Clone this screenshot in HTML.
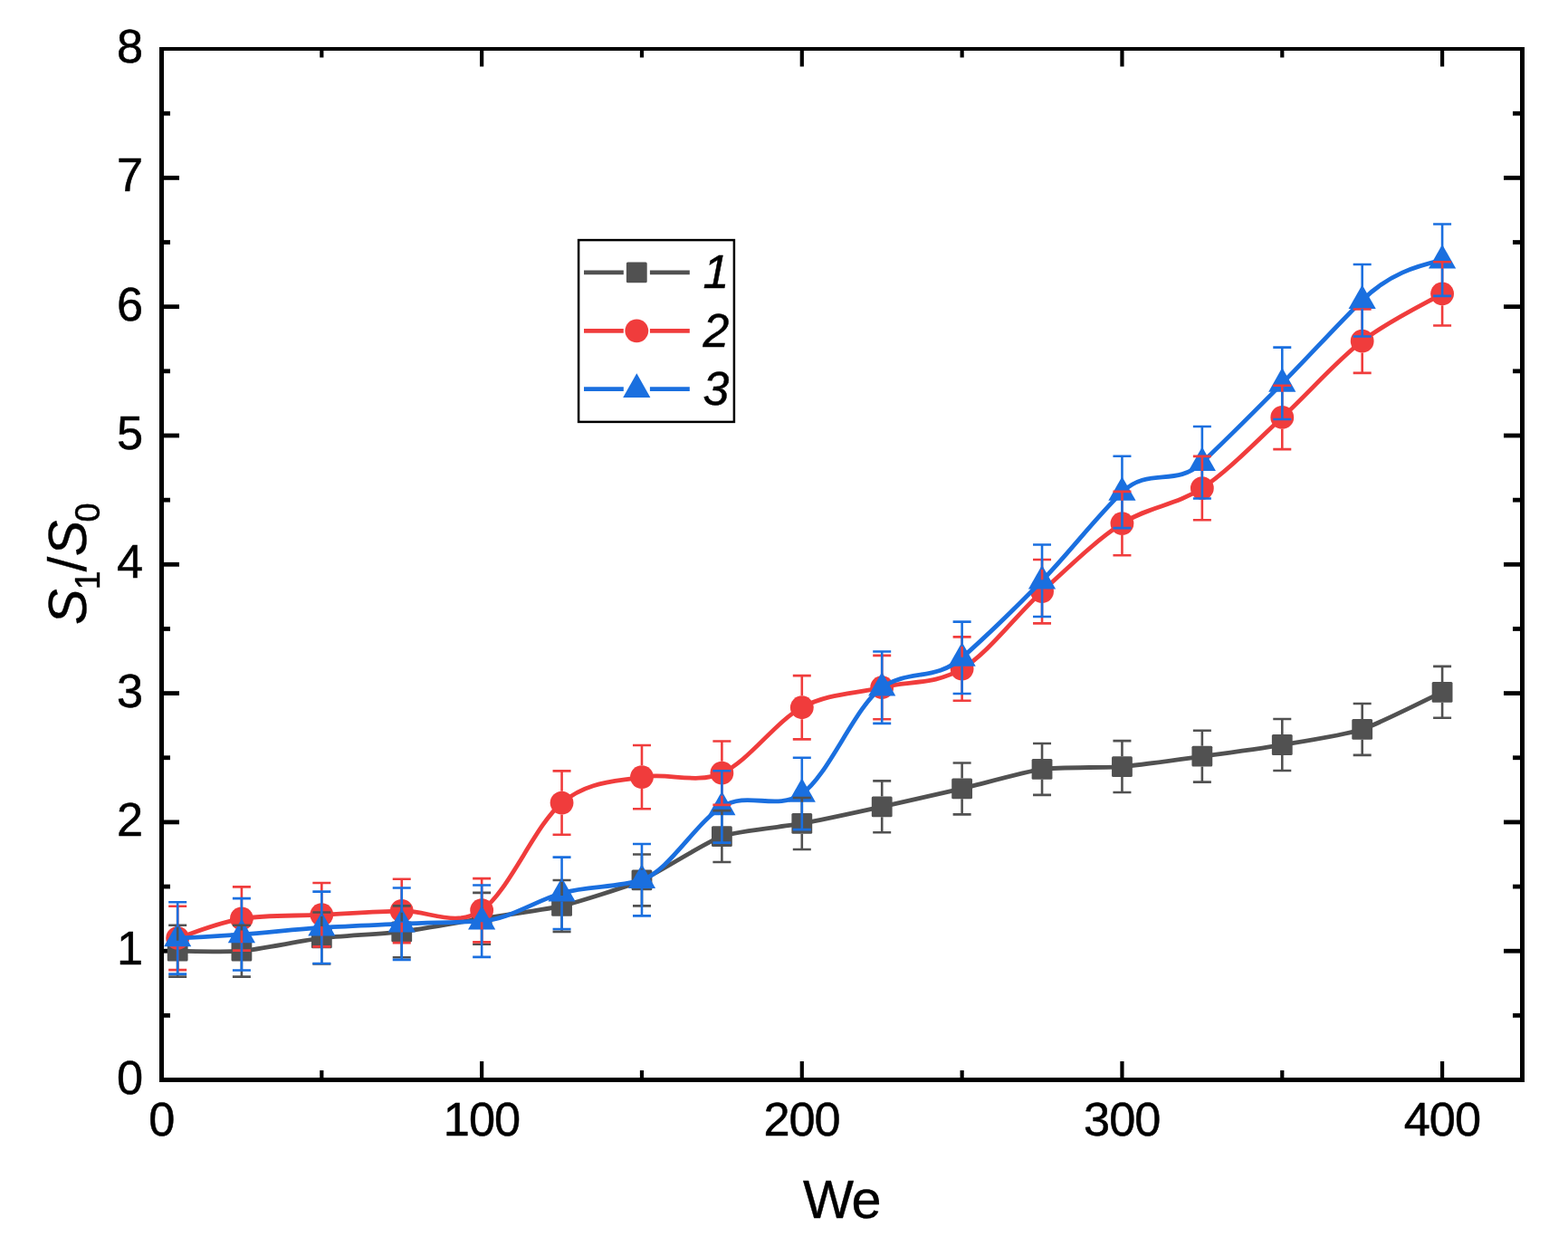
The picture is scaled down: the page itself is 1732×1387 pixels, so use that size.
<!DOCTYPE html>
<html lang="en"><head><meta charset="utf-8"><title>S1/S0 vs We</title>
<style>html,body{margin:0;padding:0;background:#fff}body{width:1732px;height:1387px;overflow:hidden}svg{display:block}text{font-family:"Liberation Sans",Arial,Helvetica,sans-serif;fill:#000}</style>
</head><body>
<svg width="1732" height="1387" viewBox="0 0 1732 1387">
<rect width="1732" height="1387" fill="#fff"/>
<g fill="#000"><rect x="176" y="52" width="1508" height="4"/><rect x="176" y="1190" width="1508" height="5"/><rect x="176" y="52" width="5" height="1143"/><rect x="1679" y="52" width="5" height="1143"/><rect x="353.23" y="1182" width="4.2" height="9"/><rect x="353.23" y="55" width="4.2" height="8.5"/><rect x="530.05" y="1172" width="4.2" height="19"/><rect x="530.05" y="55" width="4.2" height="18.5"/><rect x="706.88" y="1182" width="4.2" height="9"/><rect x="706.88" y="55" width="4.2" height="8.5"/><rect x="883.7" y="1172" width="4.2" height="19"/><rect x="883.7" y="55" width="4.2" height="18.5"/><rect x="1060.53" y="1182" width="4.2" height="9"/><rect x="1060.53" y="55" width="4.2" height="8.5"/><rect x="1237.35" y="1172" width="4.2" height="19"/><rect x="1237.35" y="55" width="4.2" height="18.5"/><rect x="1414.18" y="1182" width="4.2" height="9"/><rect x="1414.18" y="55" width="4.2" height="8.5"/><rect x="1591" y="1172" width="4.2" height="19"/><rect x="1591" y="55" width="4.2" height="18.5"/><rect x="180" y="1118.95" width="8" height="4.8"/><rect x="1671" y="1118.95" width="9" height="4.8"/><rect x="180" y="1047.8" width="18" height="4.8"/><rect x="1661" y="1047.8" width="19" height="4.8"/><rect x="180" y="976.65" width="8" height="4.8"/><rect x="1671" y="976.65" width="9" height="4.8"/><rect x="180" y="905.5" width="18" height="4.8"/><rect x="1661" y="905.5" width="19" height="4.8"/><rect x="180" y="834.35" width="8" height="4.8"/><rect x="1671" y="834.35" width="9" height="4.8"/><rect x="180" y="763.2" width="18" height="4.8"/><rect x="1661" y="763.2" width="19" height="4.8"/><rect x="180" y="692.05" width="8" height="4.8"/><rect x="1671" y="692.05" width="9" height="4.8"/><rect x="180" y="620.9" width="18" height="4.8"/><rect x="1661" y="620.9" width="19" height="4.8"/><rect x="180" y="549.75" width="8" height="4.8"/><rect x="1671" y="549.75" width="9" height="4.8"/><rect x="180" y="478.6" width="18" height="4.8"/><rect x="1661" y="478.6" width="19" height="4.8"/><rect x="180" y="407.45" width="8" height="4.8"/><rect x="1671" y="407.45" width="9" height="4.8"/><rect x="180" y="336.3" width="18" height="4.8"/><rect x="1661" y="336.3" width="19" height="4.8"/><rect x="180" y="265.15" width="8" height="4.8"/><rect x="1671" y="265.15" width="9" height="4.8"/><rect x="180" y="194" width="18" height="4.8"/><rect x="1661" y="194" width="19" height="4.8"/><rect x="180" y="122.85" width="8" height="4.8"/><rect x="1671" y="122.85" width="9" height="4.8"/></g>
<g><path d="M196.18 1050.2C203.26 1050.2 251 1051.62 266.91 1050.2C282.83 1048.78 337.64 1038.1 355.33 1035.97C373.01 1033.84 426.06 1031.02 443.74 1028.86C461.42 1026.69 514.47 1017.19 532.15 1014.34C549.83 1011.49 602.88 1004.64 620.56 1000.39C638.25 996.15 691.29 979.62 708.98 971.93C726.66 964.25 779.71 929.8 797.39 923.55C815.07 917.31 868.12 912.74 885.8 909.47C903.48 906.19 956.53 894.68 974.21 890.82C991.9 886.97 1044.94 875.04 1062.62 870.9C1080.31 866.76 1133.36 851.85 1151.04 849.41C1168.72 846.98 1221.77 847.99 1239.45 846.57C1257.13 845.15 1310.18 837.59 1327.86 835.18C1345.55 832.78 1398.59 825.49 1416.28 822.52C1433.96 819.55 1487.01 811.26 1504.69 805.44C1522.37 799.62 1584.26 768.43 1593.1 764.32" fill="none" stroke="#515151" stroke-width="4.8" stroke-linejoin="round" stroke-linecap="butt"/>
<rect x="184.78" y="1038.8" width="22.8" height="22.8" rx="1.5" fill="#515151"/>
<rect x="255.51" y="1038.8" width="22.8" height="22.8" rx="1.5" fill="#515151"/>
<rect x="343.93" y="1024.57" width="22.8" height="22.8" rx="1.5" fill="#515151"/>
<rect x="432.34" y="1017.46" width="22.8" height="22.8" rx="1.5" fill="#515151"/>
<rect x="520.75" y="1002.94" width="22.8" height="22.8" rx="1.5" fill="#515151"/>
<rect x="609.16" y="989" width="22.8" height="22.8" rx="1.5" fill="#515151"/>
<rect x="697.58" y="960.53" width="22.8" height="22.8" rx="1.5" fill="#515151"/>
<rect x="785.99" y="912.15" width="22.8" height="22.8" rx="1.5" fill="#515151"/>
<rect x="874.4" y="898.07" width="22.8" height="22.8" rx="1.5" fill="#515151"/>
<rect x="962.81" y="879.42" width="22.8" height="22.8" rx="1.5" fill="#515151"/>
<rect x="1051.22" y="859.5" width="22.8" height="22.8" rx="1.5" fill="#515151"/>
<rect x="1139.64" y="838.01" width="22.8" height="22.8" rx="1.5" fill="#515151"/>
<rect x="1228.05" y="835.17" width="22.8" height="22.8" rx="1.5" fill="#515151"/>
<rect x="1316.46" y="823.78" width="22.8" height="22.8" rx="1.5" fill="#515151"/>
<rect x="1404.88" y="811.12" width="22.8" height="22.8" rx="1.5" fill="#515151"/>
<rect x="1493.29" y="794.04" width="22.8" height="22.8" rx="1.5" fill="#515151"/>
<rect x="1581.7" y="752.92" width="22.8" height="22.8" rx="1.5" fill="#515151"/>
</g>
<g><path d="M196.18 1035.97C207.97 1032.39 240.39 1018.78 266.91 1014.48C293.44 1010.19 325.85 1011.64 355.33 1010.21C384.8 1008.79 414.27 1006.77 443.74 1005.94C473.21 1005.11 502.68 1025.13 532.15 1005.23C561.62 985.33 591.09 911.08 620.56 886.56C650.03 862.03 679.5 863.57 708.98 858.1C738.45 852.62 767.92 866.49 797.39 853.68C826.86 840.88 856.33 797.02 885.8 781.25C915.27 765.48 944.74 766.17 974.21 759.05C1003.68 751.94 1033.15 756.21 1062.62 738.56C1092.1 720.92 1121.57 679.94 1151.04 653.18C1180.51 626.43 1209.98 597.07 1239.45 578.05C1268.92 559.03 1298.39 558.58 1327.86 539.06C1357.33 519.54 1386.8 488 1416.28 460.94C1445.75 433.87 1475.22 399.46 1504.69 376.69C1534.16 353.93 1578.36 333.06 1593.1 324.33" fill="none" stroke="#F03C3C" stroke-width="4.8" stroke-linejoin="round" stroke-linecap="butt"/>
<circle cx="196.18" cy="1035.97" r="12.9" fill="#F03C3C"/>
<circle cx="266.91" cy="1014.48" r="12.9" fill="#F03C3C"/>
<circle cx="355.33" cy="1010.21" r="12.9" fill="#F03C3C"/>
<circle cx="443.74" cy="1005.94" r="12.9" fill="#F03C3C"/>
<circle cx="532.15" cy="1005.23" r="12.9" fill="#F03C3C"/>
<circle cx="620.56" cy="886.56" r="12.9" fill="#F03C3C"/>
<circle cx="708.98" cy="858.1" r="12.9" fill="#F03C3C"/>
<circle cx="797.39" cy="853.68" r="12.9" fill="#F03C3C"/>
<circle cx="885.8" cy="781.25" r="12.9" fill="#F03C3C"/>
<circle cx="974.21" cy="759.05" r="12.9" fill="#F03C3C"/>
<circle cx="1062.62" cy="738.56" r="12.9" fill="#F03C3C"/>
<circle cx="1151.04" cy="653.18" r="12.9" fill="#F03C3C"/>
<circle cx="1239.45" cy="578.05" r="12.9" fill="#F03C3C"/>
<circle cx="1327.86" cy="539.06" r="12.9" fill="#F03C3C"/>
<circle cx="1416.28" cy="460.94" r="12.9" fill="#F03C3C"/>
<circle cx="1504.69" cy="376.69" r="12.9" fill="#F03C3C"/>
<circle cx="1593.1" cy="324.33" r="12.9" fill="#F03C3C"/>
</g>
<g><path d="M196.18 1035.97C219.76 1034.91 243.34 1033.48 266.91 1031.84C296.38 1029.8 325.85 1026.04 355.33 1024.3C384.8 1022.56 414.27 1021.51 443.74 1020.17C473.21 1018.84 502.68 1018.79 532.15 1017.19C561.62 1015.58 591.09 994.99 620.56 986.31C650.03 977.62 679.5 980.87 708.98 971.65C738.45 962.43 767.92 909.23 797.39 890.97C826.86 872.7 856.33 896.34 885.8 876.45C915.27 856.56 944.74 779.63 974.21 759.2C1003.68 738.76 1033.15 752.42 1062.62 726.33C1092.1 700.23 1121.57 671.48 1151.04 641.23C1180.51 610.98 1209.98 571.98 1239.45 543.47C1268.92 514.96 1298.39 538.74 1327.86 510.74C1357.33 482.74 1386.8 453.26 1416.28 423.37C1445.75 393.48 1475.22 360.97 1504.69 331.73C1534.16 302.48 1563.63 294.18 1593.1 287.19" fill="none" stroke="#1A6FDF" stroke-width="4.8" stroke-linejoin="round" stroke-linecap="butt"/>
<path d="M196.18 1018.67L211.28 1045.27L181.08 1045.27Z" fill="#1A6FDF"/>
<path d="M266.91 1014.54L282.01 1041.14L251.81 1041.14Z" fill="#1A6FDF"/>
<path d="M355.33 1007L370.43 1033.6L340.23 1033.6Z" fill="#1A6FDF"/>
<path d="M443.74 1002.87L458.84 1029.47L428.64 1029.47Z" fill="#1A6FDF"/>
<path d="M532.15 999.89L547.25 1026.49L517.05 1026.49Z" fill="#1A6FDF"/>
<path d="M620.56 969.01L635.66 995.61L605.46 995.61Z" fill="#1A6FDF"/>
<path d="M708.98 954.35L724.08 980.95L693.88 980.95Z" fill="#1A6FDF"/>
<path d="M797.39 873.67L812.49 900.27L782.29 900.27Z" fill="#1A6FDF"/>
<path d="M885.8 859.15L900.9 885.75L870.7 885.75Z" fill="#1A6FDF"/>
<path d="M974.21 741.9L989.31 768.5L959.11 768.5Z" fill="#1A6FDF"/>
<path d="M1062.62 709.03L1077.72 735.63L1047.53 735.63Z" fill="#1A6FDF"/>
<path d="M1151.04 623.93L1166.14 650.53L1135.94 650.53Z" fill="#1A6FDF"/>
<path d="M1239.45 526.17L1254.55 552.77L1224.35 552.77Z" fill="#1A6FDF"/>
<path d="M1327.86 493.44L1342.96 520.04L1312.76 520.04Z" fill="#1A6FDF"/>
<path d="M1416.28 406.07L1431.38 432.67L1401.18 432.67Z" fill="#1A6FDF"/>
<path d="M1504.69 314.43L1519.79 341.03L1489.59 341.03Z" fill="#1A6FDF"/>
<path d="M1593.1 269.89L1608.2 296.49L1578 296.49Z" fill="#1A6FDF"/>
</g>
<path d="M196.18 1021.74V1038.8M196.18 1061.6V1078.66M186.18 1021.74H206.18M186.18 1078.66H206.18M266.91 1021.74V1038.8M266.91 1061.6V1078.66M256.91 1021.74H276.91M256.91 1078.66H276.91M355.33 1007.51V1024.57M355.33 1047.37V1064.43M345.33 1007.51H365.33M345.33 1064.43H365.33M443.74 1000.39V1017.46M443.74 1040.26V1057.32M433.74 1000.39H453.74M433.74 1057.32H453.74M532.15 985.88V1002.94M532.15 1025.74V1042.8M522.15 985.88H542.15M522.15 1042.8H542.15M620.56 971.93V989M620.56 1011.79V1028.86M610.56 971.93H630.56M610.56 1028.86H630.56M708.98 943.47V960.53M708.98 983.33V1000.39M698.98 943.47H718.98M698.98 1000.39H718.98M797.39 895.09V912.15M797.39 934.95V952.01M787.39 895.09H807.39M787.39 952.01H807.39M885.8 881.01V898.07M885.8 920.87V937.93M875.8 881.01H895.8M875.8 937.93H895.8M974.21 862.36V879.42M974.21 902.22V919.28M964.21 862.36H984.21M964.21 919.28H984.21M1062.62 842.44V859.5M1062.62 882.3V899.36M1052.62 842.44H1072.62M1052.62 899.36H1072.62M1151.04 820.95V838.01M1151.04 860.81V877.87M1141.04 820.95H1161.04M1141.04 877.87H1161.04M1239.45 818.11V835.17M1239.45 857.97V875.03M1229.45 818.11H1249.45M1229.45 875.03H1249.45M1327.86 806.72V823.78M1327.86 846.58V863.64M1317.86 806.72H1337.86M1317.86 863.64H1337.86M1416.28 794.06V811.12M1416.28 833.92V850.98M1406.28 794.06H1426.28M1406.28 850.98H1426.28M1504.69 776.98V794.04M1504.69 816.84V833.9M1494.69 776.98H1514.69M1494.69 833.9H1514.69M1593.1 735.86V752.92M1593.1 775.72V792.78M1583.1 735.86H1603.1M1583.1 792.78H1603.1" fill="none" stroke="#515151" stroke-width="2.6"/>
<path d="M196.18 1000.82V1023.07M196.18 1048.87V1071.12M186.18 1000.82H206.18M186.18 1071.12H206.18M266.91 979.33V1001.58M266.91 1027.38V1049.63M256.91 979.33H276.91M256.91 1049.63H276.91M355.33 975.07V997.31M355.33 1023.11V1045.36M345.33 975.07H365.33M345.33 1045.36H365.33M443.74 970.8V993.04M443.74 1018.84V1041.09M433.74 970.8H453.74M433.74 1041.09H453.74M532.15 970.09V992.33M532.15 1018.13V1040.38M522.15 970.09H542.15M522.15 1040.38H542.15M620.56 851.41V873.66M620.56 899.46V921.7M610.56 851.41H630.56M610.56 921.7H630.56M708.98 822.95V845.2M708.98 871V893.24M698.98 822.95H718.98M698.98 893.24H718.98M797.39 818.54V840.78M797.39 866.58V888.83M787.39 818.54H807.39M787.39 888.83H807.39M885.8 746.1V768.35M885.8 794.15V816.4M875.8 746.1H895.8M875.8 816.4H895.8M974.21 723.91V746.15M974.21 771.95V794.2M964.21 723.91H984.21M964.21 794.2H984.21M1062.62 703.41V725.66M1062.62 751.46V773.71M1052.62 703.41H1072.62M1052.62 773.71H1072.62M1151.04 618.03V640.28M1151.04 666.08V688.33M1141.04 618.03H1161.04M1141.04 688.33H1161.04M1239.45 542.9V565.15M1239.45 590.95V613.2M1229.45 542.9H1249.45M1229.45 613.2H1249.45M1327.86 503.91V526.16M1327.86 551.96V574.21M1317.86 503.91H1337.86M1317.86 574.21H1337.86M1416.28 425.79V448.04M1416.28 473.84V496.08M1406.28 425.79H1426.28M1406.28 496.08H1426.28M1504.69 341.55V363.79M1504.69 389.59V411.84M1494.69 341.55H1514.69M1494.69 411.84H1514.69M1593.1 289.18V311.43M1593.1 337.23V359.48M1583.1 289.18H1603.1M1583.1 359.48H1603.1" fill="none" stroke="#F03C3C" stroke-width="2.6"/>
<path d="M196.18 996.27V1023.67M196.18 1045.27V1075.67M186.18 996.27H206.18M186.18 1075.67H206.18M266.91 992.14V1019.54M266.91 1041.14V1071.55M256.91 992.14H276.91M256.91 1071.55H276.91M355.33 984.6V1012M355.33 1033.6V1064M345.33 984.6H365.33M345.33 1064H365.33M443.74 980.47V1007.87M443.74 1029.47V1059.88M433.74 980.47H453.74M433.74 1059.88H453.74M532.15 977.48V1004.89M532.15 1026.49V1056.89M522.15 977.48H542.15M522.15 1056.89H542.15M620.56 946.61V974.01M620.56 995.61V1026.01M610.56 946.61H630.56M610.56 1026.01H630.56M708.98 931.95V959.35M708.98 980.95V1011.35M698.98 931.95H718.98M698.98 1011.35H718.98M797.39 851.26V878.67M797.39 900.27V930.67M787.39 851.26H807.39M787.39 930.67H807.39M885.8 836.75V864.15M885.8 885.75V916.15M875.8 836.75H895.8M875.8 916.15H895.8M974.21 719.49V746.9M974.21 768.5V798.9M964.21 719.49H984.21M964.21 798.9H984.21M1062.62 686.62V714.03M1062.62 735.63V766.03M1052.62 686.62H1072.62M1052.62 766.03H1072.62M1151.04 601.53V628.93M1151.04 650.53V680.93M1141.04 601.53H1161.04M1141.04 680.93H1161.04M1239.45 503.77V531.17M1239.45 552.77V583.17M1229.45 503.77H1249.45M1229.45 583.17H1249.45M1327.86 471.04V498.44M1327.86 520.04V550.44M1317.86 471.04H1337.86M1317.86 550.44H1337.86M1416.28 383.67V411.07M1416.28 432.67V463.07M1406.28 383.67H1426.28M1406.28 463.07H1426.28M1504.69 292.03V319.43M1504.69 341.03V371.43M1494.69 292.03H1514.69M1494.69 371.43H1514.69M1593.1 247.49V274.89M1593.1 296.49V326.89M1583.1 247.49H1603.1M1583.1 326.89H1603.1" fill="none" stroke="#1A6FDF" stroke-width="2.6"/>
<g font-size="52.3" text-anchor="middle" letter-spacing="-1" stroke="#000" stroke-width="0.5">
<text x="178.3" y="1254.1">0</text>
<text x="531.95" y="1254.1">100</text>
<text x="885.6" y="1254.1">200</text>
<text x="1239.25" y="1254.1">300</text>
<text x="1592.9" y="1254.1">400</text>
</g>
<g font-size="52.3" text-anchor="end" stroke="#000" stroke-width="0.5">
<text x="158.1" y="1207.5">0</text>
<text x="158.1" y="1065.2">1</text>
<text x="158.1" y="922.9">2</text>
<text x="158.1" y="780.6">3</text>
<text x="158.1" y="638.3">4</text>
<text x="158.1" y="496">5</text>
<text x="158.1" y="353.7">6</text>
<text x="158.1" y="211.4">7</text>
<text x="158.1" y="69.1">8</text>
</g>
<text x="929.5" y="1344.8" font-size="59.4" text-anchor="middle" letter-spacing="-1.5" stroke="#000" stroke-width="0.4">We</text>
<text transform="translate(95 690.05) rotate(-90)" font-size="59.4" stroke="#000" stroke-width="0.4"><tspan font-style="italic">S</tspan><tspan font-size="38" dy="14.5" dx="-0.95">1</tspan><tspan dy="-14.5" dx="-0.95">/</tspan><tspan font-style="italic" dx="0.35">S</tspan><tspan font-size="38" dy="14.5" dx="-1.75">0</tspan></text>
<rect x="639.1" y="265.1" width="171.8" height="200.8" fill="#fff" stroke="#000" stroke-width="2.5"/>
<path d="M645 300.8H688.8M717.9 300.8H761.8" stroke="#515151" stroke-width="4.8" fill="none"/>
<rect x="691.9" y="289.4" width="22.8" height="22.8" rx="1.5" fill="#515151"/>
<path d="M645 365.3H688.8M717.9 365.3H761.8" stroke="#F03C3C" stroke-width="4.8" fill="none"/>
<circle cx="703.3" cy="365.3" r="12.9" fill="#F03C3C"/>
<path d="M645 429.6H688.8M717.9 429.6H761.8" stroke="#1A6FDF" stroke-width="4.8" fill="none"/>
<path d="M703.3 412.3L718.4 438.9L688.2 438.9Z" fill="#1A6FDF"/>
<g font-size="51.8" font-style="italic" text-anchor="middle" stroke="#000" stroke-width="0.5">
<text x="791" y="318">1</text>
<text x="791" y="382.5">2</text>
<text x="791" y="446.8">3</text>
</g>
</svg></body></html>
